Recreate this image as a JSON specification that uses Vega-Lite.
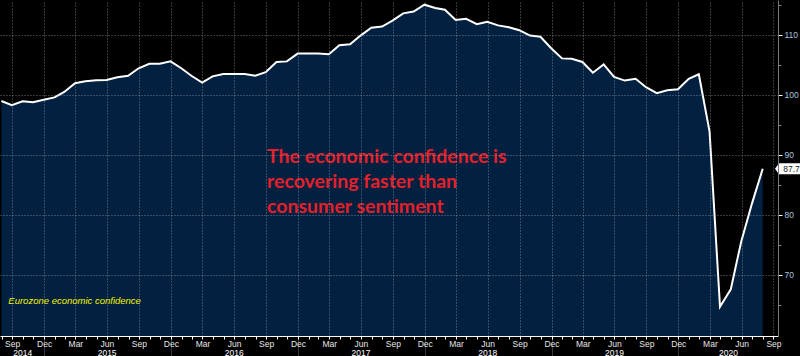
{
  "$schema": "https://vega.github.io/schema/vega-lite/v6.json",
  "width": 778,
  "height": 336,
  "autosize": {"type": "none"},
  "padding": {"left": 0, "top": 0, "right": 22, "bottom": 20},
  "background": "#000000",
  "config": {"view": {"stroke": null}},
  "data": {"values": [
    {"date": "2014-08-31", "value": 99.0},
    {"date": "2014-09-30", "value": 98.3},
    {"date": "2014-10-31", "value": 98.95},
    {"date": "2014-11-30", "value": 98.8},
    {"date": "2014-12-31", "value": 99.2},
    {"date": "2015-01-31", "value": 99.6},
    {"date": "2015-02-28", "value": 100.5},
    {"date": "2015-03-31", "value": 101.95},
    {"date": "2015-04-30", "value": 102.3},
    {"date": "2015-05-31", "value": 102.45},
    {"date": "2015-06-30", "value": 102.5},
    {"date": "2015-07-31", "value": 102.95},
    {"date": "2015-08-31", "value": 103.2},
    {"date": "2015-09-30", "value": 104.45},
    {"date": "2015-10-31", "value": 105.2},
    {"date": "2015-11-30", "value": 105.2},
    {"date": "2015-12-31", "value": 105.6},
    {"date": "2016-01-31", "value": 104.45},
    {"date": "2016-02-29", "value": 103.2},
    {"date": "2016-03-31", "value": 102.05},
    {"date": "2016-04-30", "value": 103.1},
    {"date": "2016-05-31", "value": 103.5},
    {"date": "2016-06-30", "value": 103.5},
    {"date": "2016-07-31", "value": 103.5},
    {"date": "2016-08-31", "value": 103.2},
    {"date": "2016-09-30", "value": 103.8},
    {"date": "2016-10-31", "value": 105.5},
    {"date": "2016-11-30", "value": 105.6},
    {"date": "2016-12-31", "value": 106.9},
    {"date": "2017-01-31", "value": 106.9},
    {"date": "2017-02-28", "value": 106.9},
    {"date": "2017-03-31", "value": 106.8},
    {"date": "2017-04-30", "value": 108.3},
    {"date": "2017-05-31", "value": 108.45},
    {"date": "2017-06-30", "value": 109.9},
    {"date": "2017-07-31", "value": 111.2},
    {"date": "2017-08-31", "value": 111.4},
    {"date": "2017-09-30", "value": 112.4},
    {"date": "2017-10-31", "value": 113.6},
    {"date": "2017-11-30", "value": 113.9},
    {"date": "2017-12-31", "value": 115.05},
    {"date": "2018-01-31", "value": 114.5},
    {"date": "2018-02-28", "value": 114.2},
    {"date": "2018-03-31", "value": 112.5},
    {"date": "2018-04-30", "value": 112.7},
    {"date": "2018-05-31", "value": 111.8},
    {"date": "2018-06-30", "value": 112.2},
    {"date": "2018-07-31", "value": 111.6},
    {"date": "2018-08-31", "value": 111.3},
    {"date": "2018-09-30", "value": 110.8},
    {"date": "2018-10-31", "value": 109.9},
    {"date": "2018-11-30", "value": 109.7},
    {"date": "2018-12-31", "value": 107.8},
    {"date": "2019-01-31", "value": 106.1},
    {"date": "2019-02-28", "value": 106.05},
    {"date": "2019-03-31", "value": 105.5},
    {"date": "2019-04-30", "value": 103.7},
    {"date": "2019-05-31", "value": 105.1},
    {"date": "2019-06-30", "value": 103.0},
    {"date": "2019-07-31", "value": 102.4},
    {"date": "2019-08-31", "value": 102.7},
    {"date": "2019-09-30", "value": 101.3},
    {"date": "2019-10-31", "value": 100.3},
    {"date": "2019-11-30", "value": 100.8},
    {"date": "2019-12-31", "value": 100.95},
    {"date": "2020-01-31", "value": 102.7},
    {"date": "2020-02-29", "value": 103.45},
    {"date": "2020-03-31", "value": 93.9},
    {"date": "2020-04-30", "value": 64.7},
    {"date": "2020-05-31", "value": 67.6},
    {"date": "2020-06-30", "value": 75.55},
    {"date": "2020-07-31", "value": 81.9},
    {"date": "2020-08-31", "value": 87.7}
  ]},
  "resolve": {"axis": {"x": "independent", "y": "independent"}},
  "layer": [
    {
      "mark": {"type": "area", "color": "#02203f", "clip": true},
      "encoding": {
        "x": {
          "field": "date", "type": "temporal",
          "scale": {"type": "utc", "domain": [{"year": 2014, "month": 8, "date": 27, "utc": true}, {"year": 2020, "month": 10, "date": 14, "utc": true}]},
          "axis": {
            "orient": "bottom", "title": null, "zindex": 1,
            "values": [
              {"year": 2014, "month": 10, "date": 1, "utc": true},
              {"year": 2015, "month": 1, "date": 1, "utc": true},
              {"year": 2015, "month": 4, "date": 1, "utc": true},
              {"year": 2015, "month": 7, "date": 1, "utc": true},
              {"year": 2015, "month": 10, "date": 1, "utc": true},
              {"year": 2016, "month": 1, "date": 1, "utc": true},
              {"year": 2016, "month": 4, "date": 1, "utc": true},
              {"year": 2016, "month": 7, "date": 1, "utc": true},
              {"year": 2016, "month": 10, "date": 1, "utc": true},
              {"year": 2017, "month": 1, "date": 1, "utc": true},
              {"year": 2017, "month": 4, "date": 1, "utc": true},
              {"year": 2017, "month": 7, "date": 1, "utc": true},
              {"year": 2017, "month": 10, "date": 1, "utc": true},
              {"year": 2018, "month": 1, "date": 1, "utc": true},
              {"year": 2018, "month": 4, "date": 1, "utc": true},
              {"year": 2018, "month": 7, "date": 1, "utc": true},
              {"year": 2018, "month": 10, "date": 1, "utc": true},
              {"year": 2019, "month": 1, "date": 1, "utc": true},
              {"year": 2019, "month": 4, "date": 1, "utc": true},
              {"year": 2019, "month": 7, "date": 1, "utc": true},
              {"year": 2019, "month": 10, "date": 1, "utc": true},
              {"year": 2020, "month": 1, "date": 1, "utc": true},
              {"year": 2020, "month": 4, "date": 1, "utc": true},
              {"year": 2020, "month": 7, "date": 1, "utc": true},
              {"year": 2020, "month": 10, "date": 1, "utc": true}
            ],
            "labels": false, "domain": false, "grid": false,
            "ticks": true, "tickSize": -336, "tickColor": "#b4bcc8", "tickOpacity": 0.6, "tickDash": [1, 2], "tickWidth": 1
          }
        },
        "y": {
          "field": "value", "type": "quantitative",
          "scale": {"domain": [59.83, 115.83], "nice": false, "zero": false},
          "axis": {
            "orient": "right", "title": null, "zindex": 1,
            "values": [70, 80, 90, 100, 110],
            "labels": false, "domain": false, "grid": false,
            "ticks": true, "tickSize": -778, "tickColor": "#b4bcc8", "tickOpacity": 0.6, "tickDash": [1, 2], "tickWidth": 1
          }
        }
      }
    },
    {
      "mark": {"type": "line", "color": "#ffffff", "strokeWidth": 2, "clip": true},
      "encoding": {
        "x": {
          "field": "date", "type": "temporal",
          "axis": {
            "orient": "bottom", "title": null, "zindex": 1,
            "tickCount": {"interval": "month", "step": 1},
            "labels": false, "grid": false,
            "domain": true, "domainColor": "#ffffff", "domainWidth": 1,
            "ticks": true, "tickSize": 3, "tickColor": "#ffffff"
          }
        },
        "y": {
          "field": "value", "type": "quantitative",
          "axis": {
            "orient": "right", "title": null, "zindex": 1,
            "values": [70, 80, 90, 100, 110],
            "labelFont": "Liberation Sans", "labelFontSize": 8.5, "labelColor": "#a9c3df", "labelPadding": 2,
            "domain": true, "domainColor": "#777777", "grid": false,
            "ticks": true, "tickSize": 4, "tickColor": "#ffffff"
          }
        }
      }
    },
    {
      "transform": [{"filter": {"field": "date", "equal": {"year": 2020, "month": 8, "date": 31, "utc": true}}}],
      "mark": {"type": "point", "shape": "M-13,0L-9,-5.5L14,-5.5L14,5.5L-9,5.5Z", "size": 4, "filled": true, "color": "#ffffff", "opacity": 1, "xOffset": 25.3},
      "encoding": {
        "x": {
          "field": "date", "type": "temporal",
          "axis": {
            "orient": "bottom", "title": null,
            "values": [
              {"year": 2014, "month": 10, "date": 30, "utc": true},
              {"year": 2015, "month": 6, "date": 30, "utc": true},
              {"year": 2016, "month": 6, "date": 30, "utc": true},
              {"year": 2017, "month": 6, "date": 30, "utc": true},
              {"year": 2018, "month": 6, "date": 30, "utc": true},
              {"year": 2019, "month": 6, "date": 30, "utc": true},
              {"year": 2020, "month": 5, "date": 23, "utc": true}
            ],
            "labelExpr": "utcFormat(datum.value, '%Y')",
            "ticks": false, "domain": false, "grid": false,
            "labelOverlap": false, "labelFlush": false, "labelBound": false,
            "labelFont": "Liberation Sans", "labelFontSize": 8.5, "labelColor": "#ffffff", "labelPadding": 12
          }
        },
        "y": {
          "field": "value", "type": "quantitative",
          "axis": {
            "orient": "right", "title": null, "zindex": 1,
            "values": [65, 75, 85, 95, 105, 115],
            "labels": false, "grid": false, "domain": false,
            "ticks": true, "tickSize": 3, "tickColor": "#888888"
          }
        }
      }
    },
    {
      "transform": [{"filter": {"field": "date", "equal": {"year": 2020, "month": 8, "date": 31, "utc": true}}}],
      "mark": {"type": "text", "align": "left", "baseline": "middle", "xOffset": 20.5, "font": "Liberation Sans", "fontSize": 8.5, "color": "#1a1a1a"},
      "encoding": {
        "x": {
          "field": "date", "type": "temporal",
          "axis": {
            "orient": "bottom", "title": null,
            "tickCount": {"interval": "month", "step": 3},
            "labelExpr": "utcFormat(datum.value - 86400000, '%b')",
            "labelOverlap": false, "labelFlush": false, "labelBound": false,
            "labelFont": "Liberation Sans", "labelFontSize": 8.5, "labelColor": "#e6e6e6", "labelPadding": -17,
            "grid": false, "domain": false,
            "ticks": true, "tickSize": 20,
            "tickColor": {"condition": {"test": "utcmonth(datum.value) === 0", "value": "#3a3a3a"}, "value": "#000000"},
            "tickOpacity": {"condition": {"test": "utcmonth(datum.value) === 0", "value": 1}, "value": 0}
          }
        },
        "y": {"field": "value", "type": "quantitative", "axis": null},
        "text": {"field": "value", "type": "quantitative", "format": ".1f"}
      }
    },
    {
      "data": {"values": [{}]},
      "mark": {"type": "text", "align": "left", "baseline": "alphabetic", "font": "Lato", "fontWeight": "bold", "fontSize": 19.5, "color": "#e3202b", "lineHeight": 25},
      "encoding": {
        "x": {"datum": {"year": 2016, "month": 10, "date": 4, "utc": true}, "type": "temporal", "axis": null},
        "y": {"datum": 88.72, "type": "quantitative", "axis": null},
        "text": {"value": ["The economic confidence is", "recovering faster than", "consumer sentiment"]}
      }
    },
    {
      "data": {"values": [{}]},
      "mark": {"type": "text", "align": "left", "baseline": "alphabetic", "font": "Liberation Sans", "fontStyle": "italic", "fontSize": 9.5, "color": "#f4f400"},
      "encoding": {
        "x": {"datum": {"year": 2014, "month": 9, "date": 20, "utc": true}, "type": "temporal", "axis": null},
        "y": {"datum": 65.12, "type": "quantitative", "axis": null},
        "text": {"value": "Eurozone economic confidence"}
      }
    }
  ]
}
